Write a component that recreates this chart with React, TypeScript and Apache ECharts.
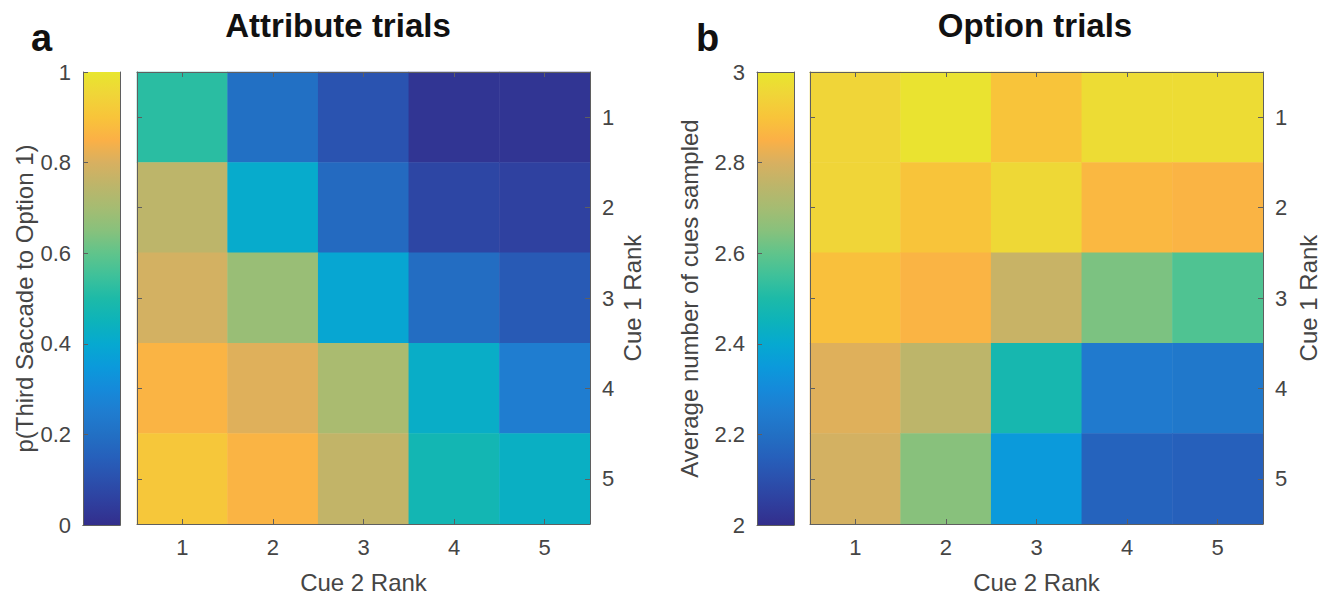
import React, { useEffect, useRef } from "react";
import * as echarts from "echarts";

const ranks = ["1", "2", "3", "4", "5"];

// colormap (parula-like), bottom (low) -> top (high)
const cmap = [
  "#332E8C", "#2F3F9E", "#2B50AD", "#2660BB", "#2270C4", "#1F7DD0", "#158ADA",
  "#0B9ADB", "#06A9D0", "#0DB3BA", "#1DBAA8", "#3EC19A", "#60C48B", "#88C17C",
  "#A5BC72", "#BDB56A", "#D8B060", "#FBB046", "#F8C43A", "#F0D538", "#E8E62E",
];

// Attribute trials: rows = Cue 1 Rank (1..5), columns = Cue 2 Rank (1..5)
const attributeRows = [
  [0.52, 0.2, 0.11, 0.02, 0.02],
  [0.75, 0.41, 0.18, 0.07, 0.055],
  [0.79, 0.68, 0.39, 0.19, 0.13],
  [0.86, 0.81, 0.71, 0.42, 0.25],
  [0.91, 0.86, 0.76, 0.47, 0.43],
];

// Option trials
const optionRows = [
  [2.95, 2.99, 2.9, 2.97, 2.97],
  [2.95, 2.9, 2.96, 2.87, 2.86],
  [2.89, 2.86, 2.77, 2.635, 2.575],
  [2.81, 2.75, 2.48, 2.24, 2.23],
  [2.79, 2.65, 2.35, 2.16, 2.15],
];

const FONT = "'Liberation Sans', Arial, Helvetica, sans-serif";
const LINE = "#5f5f5f";
const TXT = "#454545";

function toData(rows: number[][]) {
  const out: number[][] = [];
  rows.forEach((row, r) => row.forEach((v, c) => out.push([c, r, v])));
  return out;
}

function gradient() {
  return new echarts.graphic.LinearGradient(
    0, 1, 0, 0,
    cmap.map((c, i) => ({ offset: i / (cmap.length - 1), color: c }))
  );
}

export default function App() {
  const ref = useRef<HTMLDivElement>(null);
  useEffect(() => {
    document.body.style.margin = "0";
    const chart = echarts.init(ref.current!, null, { renderer: "svg" });

    const cbX = (gridIndex: number, pos: string) => ({
      type: "category",
      gridIndex,
      position: pos,
      data: [""],
      z: 10,
      axisLine: { show: true, lineStyle: { color: LINE, width: 1 } },
      axisTick: { show: false },
      axisLabel: { show: false },
    });
    const hmX = (gridIndex: number, pos: string, labels: boolean) => ({
      type: "category",
      gridIndex,
      position: pos,
      data: ranks,
      z: 10,
      name: labels ? "Cue 2 Rank" : "",
      nameLocation: "middle",
      nameGap: 46,
      nameTextStyle: { fontFamily: FONT, fontSize: 24, color: TXT },
      axisLine: { show: true, lineStyle: { color: LINE, width: 1 } },
      axisTick: { show: true, inside: true, alignWithLabel: true, length: 5, lineStyle: { color: LINE } },
      axisLabel: { show: labels, fontFamily: FONT, fontSize: 22, color: TXT, margin: 12 },
      splitLine: { show: false },
    });
    const hmY = (gridIndex: number, pos: string, labels: boolean, gap: number) => ({
      type: "category",
      gridIndex,
      position: pos,
      inverse: true,
      data: ranks,
      z: 10,
      name: labels ? "Cue 1 Rank" : "",
      nameLocation: "middle",
      nameRotate: 90,
      nameGap: gap,
      nameTextStyle: { fontFamily: FONT, fontSize: 24, color: TXT },
      axisLine: { show: true, lineStyle: { color: LINE, width: 1 } },
      axisTick: { show: true, inside: true, alignWithLabel: true, length: 5, lineStyle: { color: LINE } },
      axisLabel: { show: labels, fontFamily: FONT, fontSize: 22, color: TXT, margin: 12 },
      splitLine: { show: false },
    });
    const cbY = (gridIndex: number, min: number, max: number, name: string, gap: number) => ({
      type: "value",
      gridIndex,
      position: "left",
      min,
      max,
      interval: 0.2,
      z: 10,
      name,
      nameLocation: "middle",
      nameRotate: 90,
      nameGap: gap,
      nameTextStyle: { fontFamily: FONT, fontSize: 24, color: TXT },
      axisLine: { show: true, lineStyle: { color: LINE, width: 1 } },
      axisTick: { show: true, inside: true, length: 5, lineStyle: { color: LINE } },
      axisLabel: {
        fontFamily: FONT, fontSize: 22, color: TXT, margin: 12,
        formatter: (v: number) => String(Math.round(v * 10) / 10),
      },
      splitLine: { show: false },
    });
    const cbYHidden = (gridIndex: number) => ({
      type: "value",
      gridIndex,
      position: "right",
      min: 0,
      max: 1,
      z: 10,
      axisLine: { show: true, lineStyle: { color: LINE, width: 1 } },
      axisTick: { show: false },
      axisLabel: { show: false },
      splitLine: { show: false },
    });

    const option: any = {
      animation: false,
      backgroundColor: "#ffffff",
      grid: [
        { left: 83, top: 72, width: 37, height: 453 },
        { left: 137, top: 72, width: 453, height: 453 },
        { left: 757, top: 72, width: 37, height: 453 },
        { left: 810, top: 72, width: 453, height: 453 },
      ],
      xAxis: [
        cbX(0, "bottom"),
        cbX(0, "top"),
        hmX(1, "bottom", true),
        hmX(1, "top", false),
        cbX(2, "bottom"),
        cbX(2, "top"),
        hmX(3, "bottom", true),
        hmX(3, "top", false),
      ],
      yAxis: [
        cbY(0, 0, 1, "p(Third Saccade to Option 1)", 42),
        cbYHidden(0),
        hmY(1, "right", true, 30),
        hmY(1, "left", false, 30),
        cbY(2, 2, 3, "Average number of cues sampled", 56),
        cbYHidden(2),
        hmY(3, "right", true, 33),
        hmY(3, "left", false, 30),
      ],
      visualMap: [
        { type: "continuous", show: false, seriesIndex: 1, min: 0, max: 1, inRange: { color: cmap } },
        { type: "continuous", show: false, seriesIndex: 3, min: 2, max: 3, inRange: { color: cmap } },
      ],
      series: [
        {
          type: "bar", xAxisIndex: 0, yAxisIndex: 1, data: [1], barWidth: "100%",
          itemStyle: { color: gradient() }, silent: true,
        },
        {
          type: "heatmap", xAxisIndex: 2, yAxisIndex: 2, data: toData(attributeRows),
          itemStyle: { borderWidth: 0 }, emphasis: { disabled: true }, silent: true,
        },
        {
          type: "bar", xAxisIndex: 4, yAxisIndex: 5, data: [1], barWidth: "100%",
          itemStyle: { color: gradient() }, silent: true,
        },
        {
          type: "heatmap", xAxisIndex: 6, yAxisIndex: 6, data: toData(optionRows),
          itemStyle: { borderWidth: 0 }, emphasis: { disabled: true }, silent: true,
        },
      ],
      graphic: [
        { type: "text", x: 31, y: 38, style: { text: "a", font: `bold 38px ${FONT}`, fill: "#111", textVerticalAlign: "middle" } },
        { type: "text", x: 696, y: 38, style: { text: "b", font: `bold 38px ${FONT}`, fill: "#111", textVerticalAlign: "middle" } },
        { type: "text", x: 338, y: 25, style: { text: "Attribute trials", font: `bold 33px ${FONT}`, fill: "#111", textAlign: "center", textVerticalAlign: "middle" } },
        { type: "text", x: 1035, y: 25, style: { text: "Option trials", font: `bold 33px ${FONT}`, fill: "#111", textAlign: "center", textVerticalAlign: "middle" } },
      ],
    };
    chart.setOption(option);
    return () => chart.dispose();
  }, []);
  return <div ref={ref} style={{ width: 1336, height: 599 }} />;
}
